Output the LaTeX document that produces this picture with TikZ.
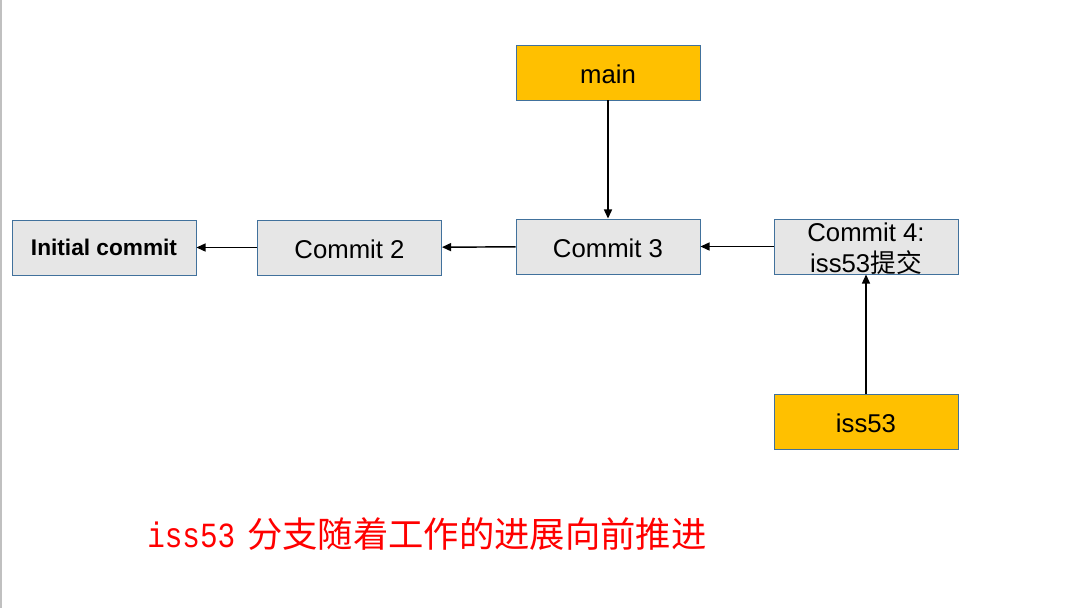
\documentclass[tikz,border=0pt]{standalone}
\usepackage{fontspec}
\setmainfont{Liberation Sans}
\newfontfamily\cjk{Noto Sans CJK SC}
\newfontfamily\capmono{Liberation Mono}
\usetikzlibrary{arrows.meta}
\definecolor{boxgray}{RGB}{230,230,230}
\definecolor{boxedge}{RGB}{65,113,156}
\definecolor{gold}{RGB}{255,192,0}
\definecolor{edgegray}{RGB}{192,192,192}
\begin{document}
\begin{tikzpicture}[x=0.75pt,y=-0.75pt,
  boxfont/.style={font=\fontsize{19.3}{23.5}\selectfont},
  commitbox/.style={draw=boxedge, line width=0.7pt, fill=boxgray, minimum width=138pt, minimum height=41.25pt, inner sep=0pt, boxfont, text height=16.6pt, text depth=0.8pt},
  refbox/.style={commitbox, fill=gold},
  link/.style={line width=1.1pt, -{Triangle[length=6.8pt,width=6pt]}}]
\useasboundingbox (0,0) rectangle (1067,608);
\fill[white] (0,0) rectangle (1067,608);
\fill[edgegray] (0,0) rectangle (1.5,608);

\node[commitbox, font=\fontsize{17}{20}\selectfont\bfseries, text height=13.2pt] (c1) at (104,247.5) {Initial commit};
\node[commitbox] (c2) at (349.5,247.5) {Commit 2};
\node[commitbox] (c3) at (608,246.5) {Commit 3};
\node[commitbox] (c4) at (866,246.5) {};
\node[boxfont, align=center, inner sep=0pt] (c4text) at ([yshift=-1.8pt]c4.center) {Commit 4:\\iss53{\cjk 提交}};
\node[refbox] (main) at (608,72.5) {main};
\node[refbox] (iss) at (866,421.5) {iss53};

\draw[link] (main) -- (c3);
\draw[link] (c3) -- (c2);
\draw[link] (c2.west) -- (c1.east);
\draw[link] (c4) -- (c3);
\draw[link] (iss) -- (c4);

\node[anchor=west, inner sep=0pt, text=red, font=\fontsize{26.5}{30}\selectfont] (cap) at (147,534)
  {\scalebox{0.83}[1]{\capmono iss53}\hspace{9pt}{\cjk 分支随着工作的进展向前推进}};
\end{tikzpicture}
\end{document}
